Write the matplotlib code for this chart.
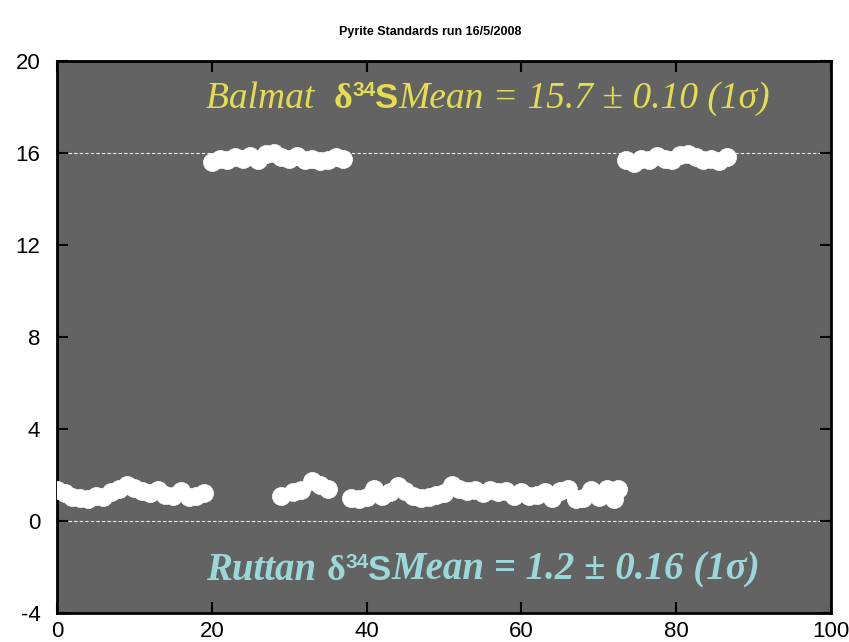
import matplotlib
matplotlib.use("Agg")
import matplotlib.pyplot as plt

plt.rcParams["axes.unicode_minus"] = False

# Ruttan pyrite standard (delta34S, permil) against analysis number
ruttan_x = [0, 1, 2, 3, 4, 5, 6, 7, 8, 9, 10, 11, 12, 13, 14, 15, 16, 17, 18, 19,
            29, 30.5, 31.5, 33, 34, 35,
            38, 39, 40, 41, 42, 43, 44, 45, 46, 47, 48, 49, 50, 51, 52, 53, 54, 55,
            56, 57, 58, 59, 60, 61, 62, 63, 64, 65, 66, 67, 68, 69, 70, 71, 72, 72.5]
ruttan_y = [1.35, 1.2, 1.05, 1.0, 0.95, 1.1, 1.05, 1.25, 1.4, 1.55, 1.45, 1.3, 1.2, 1.35, 1.15, 1.1, 1.3, 1.05, 1.1, 1.2,
            1.1, 1.25, 1.35, 1.75, 1.55, 1.4,
            1.0, 0.95, 1.05, 1.4, 1.1, 1.25, 1.5, 1.3, 1.1, 1.0, 1.05, 1.15, 1.2, 1.55, 1.4, 1.3, 1.35, 1.2,
            1.35, 1.25, 1.3, 1.1, 1.25, 1.1, 1.15, 1.25, 1.0, 1.3, 1.4, 0.95, 1.0, 1.35, 1.05, 1.4, 0.95, 1.4]

# Balmat pyrite standard
balmat_x = [20, 21, 22, 23, 24, 25, 26, 27, 28, 29, 30, 31, 32, 33, 34, 35, 36, 37,
            73.5, 74.5, 75.5, 76.5, 77.5, 78.5, 79.5, 80.5, 81.5, 82.5, 83.5, 84.5, 85.5, 86.5]
balmat_y = [15.6, 15.75, 15.7, 15.8, 15.75, 15.85, 15.7, 15.95, 16.0, 15.8, 15.75, 15.85, 15.7, 15.75, 15.65, 15.7, 15.8, 15.75,
            15.7, 15.55, 15.75, 15.7, 15.85, 15.75, 15.7, 15.9, 15.95, 15.8, 15.7, 15.75, 15.65, 15.8]

reference_lines = [16, 0]
xticks = [0, 20, 40, 60, 80, 100]
yticks = [-4, 0, 4, 8, 12, 16, 20]

fig = plt.figure(figsize=(8.49, 6.42), dpi=100)
ax = fig.add_axes([0.0671, 0.0452, 0.9117, 0.86])
ax.set_facecolor("#636363")

for yv in reference_lines:
    ax.axhline(yv, color="#f0f0f0", lw=0.8, ls=(0, (3, 2)), zorder=1)

mkw = dict(ls="none", marker="o", ms=13, mfc="white", mec="white", mew=0.5, zorder=3)
ax.plot(ruttan_x, ruttan_y, **mkw)
ax.plot(balmat_x, balmat_y, **mkw)

ax.set_xlim(0, 100)
ax.set_ylim(-4, 20)
ax.set_xticks(xticks)
ax.set_yticks(yticks)
ax.tick_params(direction="in", length=8, width=1.5, top=True, right=True,
               labelsize=16, color="black")
ax.tick_params(axis="y", pad=12)
ax.tick_params(axis="x", pad=6)
for lab in ax.get_xticklabels() + ax.get_yticklabels():
    lab.set_fontfamily("Liberation Sans")
for sp in ax.spines.values():
    sp.set_linewidth(2)
    sp.set_color("black")

fig.text(0.507, 0.95, "Pyrite Standards run 16/5/2008", ha="center", va="center",
         fontsize=9, fontweight="bold", family="Liberation Sans")


def draw_pieces(x0, y0, pieces, color):
    """Lay out text pieces left to right, starting at data coords (x0, y0)."""
    fig.canvas.draw()
    renderer = fig.canvas.get_renderer()
    disp = ax.transData.transform((x0, y0))
    cur_x = disp[0]
    for txt, props, dy in pieces:
        t = fig.text(cur_x / fig.dpi / fig.get_figwidth(),
                     (disp[1] + dy) / fig.dpi / fig.get_figheight(),
                     txt, color=color, va="baseline", ha="left", **props)
        bb = t.get_window_extent(renderer)
        cur_x = bb.x1


serif_it = dict(family="Liberation Serif", style="italic", fontsize=27)
serif_bi = dict(family="Liberation Serif", style="italic", fontweight="bold", fontsize=28)
sym_b = dict(family="Liberation Serif", fontweight="bold", fontsize=26)
sans_b = dict(family="Liberation Sans", fontweight="bold", fontsize=25)
sup_b = dict(family="Liberation Sans", fontweight="bold", fontsize=15)

yellow = "#e3dd4f"
cyan = "#9ad8da"

draw_pieces(19.3, 17.95, [
    ("Balmat  ", serif_it, 0),
    ("\u03b4", sym_b, 0),
    ("34", sup_b, 12),
    ("S", sans_b, 0),
    ("Mean = 15.7 \u00b1 0.10 (1\u03c3)", serif_it, 0),
], yellow)

draw_pieces(19.3, -2.55, [
    ("Ruttan ", serif_bi, 0),
    ("\u03b4", sym_b, 0),
    ("34", sup_b, 12),
    ("S", sans_b, 0),
    ("Mean = 1.2 \u00b1 0.16 (1\u03c3)", serif_bi, 0),
], cyan)

fig.savefig("out.png", dpi=100)
